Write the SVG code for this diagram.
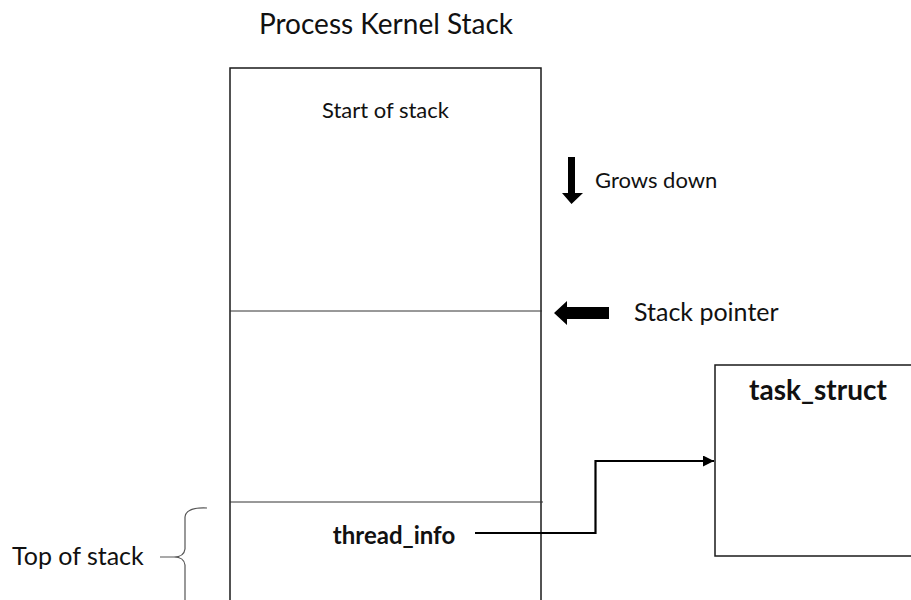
<svg xmlns="http://www.w3.org/2000/svg" width="911" height="600" viewBox="0 0 911 600">
<style>
text{font-family:Lato,"Open Sans","Liberation Sans",sans-serif;fill:#111}
.box{fill:#fff;stroke:#1a1a1a;stroke-width:1.5}
.div{stroke:#333;stroke-width:1}
.b{font-weight:bold}
.conn{fill:none;stroke:#000;stroke-width:2.2}
</style>
<defs>
<marker id="ah" viewBox="0 0 10 10" refX="10" refY="5" markerWidth="5" markerHeight="5" orient="auto" markerUnits="strokeWidth">
<path d="M0,0 L10,5 L0,10 Z" fill="#000"/>
</marker>
</defs>
<rect width="911" height="600" fill="#fff"/>
<text x="386" y="34" font-size="28" text-anchor="middle">Process Kernel Stack</text>
<g id="stack">
<rect class="box" x="230" y="68" width="311" height="560"/>
<line class="div" x1="230" y1="311" x2="542" y2="311"/>
<line class="div" x1="230" y1="502" x2="543" y2="502"/>
<text x="385.5" y="118" font-size="22" text-anchor="middle">Start of stack</text>
<text class="b" x="394" y="544" font-size="24" text-anchor="middle">thread_info</text>
</g>
<g id="grows-down">
<path d="M568,157 H575 V193 H583 L571.5,204 L562,193 H568 Z" fill="#000"/>
<text x="595" y="188" font-size="22">Grows down</text>
</g>
<g id="stack-pointer">
<path d="M554,313 L567,301 V307 H609 V319 H567 V325 Z" fill="#000"/>
<text x="634" y="321" font-size="25">Stack pointer</text>
</g>
<g id="task_struct">
<rect class="box" x="715" y="365" width="210" height="191"/>
<text class="b" x="818" y="400" font-size="28" text-anchor="middle">task_struct</text>
</g>
<g id="top-of-stack">
<path d="M207,508 Q186,507 185,517 L185,549 Q184,557 174,557 L160,557 M174,557 Q184,557 185,565 L185,600" fill="none" stroke="#555" stroke-width="1.2"/>
<text x="12" y="565" font-size="25">Top of stack</text>
</g>
<g id="connectors">
<path class="conn" d="M475,533 H595.5 V461 H714" marker-end="url(#ah)"/>
</g>
</svg>
